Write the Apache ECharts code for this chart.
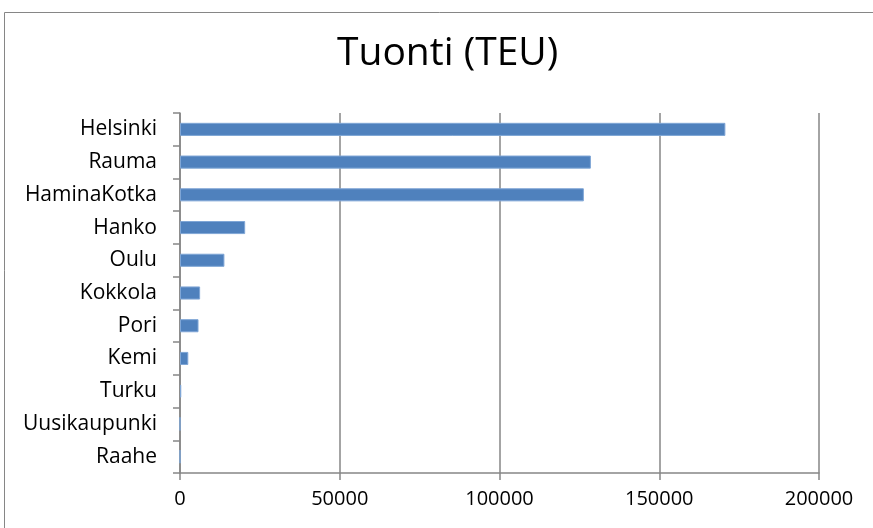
<!DOCTYPE html>
<html>
<head>
<meta charset="utf-8">
<script src="https://cdn.jsdelivr.net/npm/echarts@6/dist/echarts.min.js"></script>
<style>
  html, body { margin: 0; padding: 0; background: #fff; }
  #chart { width: 873px; height: 528px; }
</style>
</head>
<body>
<div id="chart"></div>
<script>
const ports = ['Helsinki', 'Rauma', 'HaminaKotka', 'Hanko', 'Oulu', 'Kokkola', 'Pori', 'Kemi', 'Turku', 'Uusikaupunki', 'Raahe'];
const teu = [170700, 128600, 126400, 20400, 13900, 6300, 5800, 2600, 400, 0, 0];

const font = '"Open Sans", sans-serif';
const gray = '#868686';

const chart = echarts.init(document.getElementById('chart'));
chart.setOption({
    animation: false,
    title: {
        text: 'Tuonti (TEU)',
        left: 332,
        top: 29,
        textStyle: { fontFamily: font, fontSize: 39, fontWeight: 'normal', color: '#000' }
    },
    graphic: [{
        type: 'rect',
        shape: { x: 4.5, y: 12.5, width: 900, height: 600 },
        style: { fill: 'none', stroke: gray, lineWidth: 1 },
        silent: true
    }],
    grid: { left: 180, right: 54, top: 113, bottom: 55 },
    xAxis: {
        type: 'value',
        min: 0,
        max: 200000,
        interval: 50000,
        axisLine: { show: true, lineStyle: { color: gray, width: 1.5 } },
        axisTick: { show: true, length: 7, lineStyle: { color: gray, width: 1.5 } },
        splitLine: { show: true, lineStyle: { color: gray, width: 1.5 } },
        axisLabel: {
            fontFamily: font, fontSize: 20, color: '#000', margin: 16,
            formatter: v => String(v)
        }
    },
    yAxis: {
        type: 'category',
        data: ports,
        inverse: true,
        axisLine: { show: true, lineStyle: { color: gray, width: 1.5 } },
        axisTick: { show: true, length: 7, lineStyle: { color: gray, width: 1.5 } },
        axisLabel: { fontFamily: font, fontSize: 21, color: '#000', margin: 23 }
    },
    series: [{
        type: 'bar',
        data: teu,
        barWidth: '40%',
        itemStyle: { color: '#4F81BD', borderColor: '#7FA6D6', borderWidth: 1 }
    }]
});
</script>
</body>
</html>
